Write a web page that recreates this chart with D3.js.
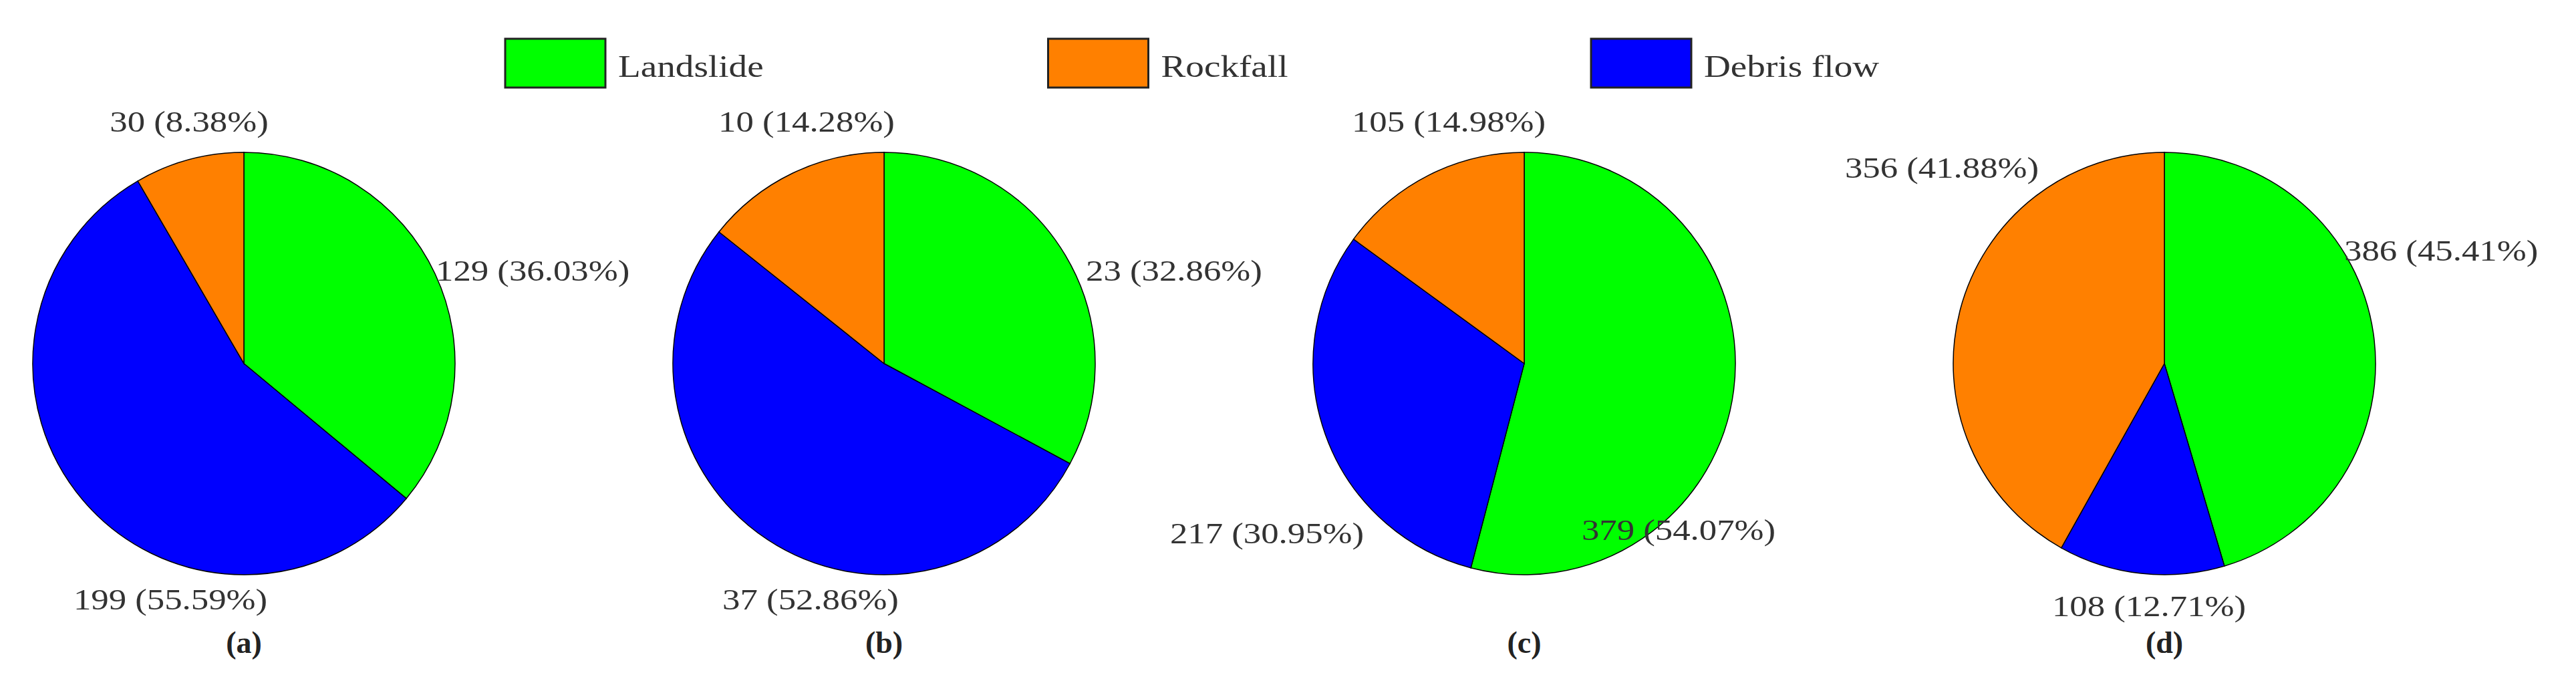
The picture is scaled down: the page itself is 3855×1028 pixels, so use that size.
<!DOCTYPE html>
<html><head><meta charset="utf-8">
<script src="https://cdn.jsdelivr.net/npm/d3@7"></script>
<style>body{margin:0;background:#fff}</style>
</head><body><svg id="c" width="3855" height="1028"></svg>
<script>
const categories = ["Landslide","Rockfall","Debris flow"];
const colors = ["#00ff00","#ff8000","#0000ff"];
const panels = ["(a)","(b)","(c)","(d)"];
const landslide = [129,23,379,386];
const rockfall = [30,10,105,356];
const debris = [199,37,217,108];
const pctLandslide = ["36.03%","32.86%","54.07%","45.41%"];
const pctRockfall = ["8.38%","14.28%","14.98%","41.88%"];
const pctDebris = ["55.59%","52.86%","30.95%","12.71%"];
// label layout: [dx, dy, anchor] relative to pie center, per panel, order landslide, rockfall, debris
const labelLayout = [
  [[287,-124,"start"],[-82,-347,"middle"],[-110,368,"middle"]],
  [[302,-124,"start"],[-116,-347,"middle"],[-110,368,"middle"]],
  [[231,264,"middle"],[-113,-347,"middle"],[-385,269,"middle"]],
  [[269,-154,"start"],[-333,-278,"middle"],[-23,378,"middle"]]
];
const svg = d3.select("#c");
const x = d3.scalePoint().domain(panels).range([365,3239]);
const R = 316, cy = 544;
const pie = d3.pie().sort(null).value(d=>d.v);
const arc = d3.arc().innerRadius(0).outerRadius(R);
const font = "'Liberation Serif','Times New Roman',serif";
panels.forEach((p,i)=>{
  const data=[{v:landslide[i],c:0,p:pctLandslide[i]},{v:debris[i],c:2,p:pctDebris[i]},{v:rockfall[i],c:1,p:pctRockfall[i]}];
  const g=svg.append("g").attr("transform",`translate(${x(p)},${cy})`);
  g.selectAll("path").data(pie(data)).enter().append("path")
    .attr("d",arc).attr("fill",d=>colors[d.data.c]).attr("stroke","#000").attr("stroke-width",1.5);
  data.forEach(d=>{
    const L=labelLayout[i][d.c];
    g.append("text").attr("transform",`translate(${L[0]},${L[1]}) scale(1.2,1)`)
      .attr("text-anchor",L[2]).attr("font-family",font).attr("font-size",44).attr("fill","#333")
      .text(`${d.v} (${d.p})`);
  });
  g.append("text").attr("x",0).attr("y",433).attr("text-anchor","middle").attr("font-family",font)
    .attr("font-weight","bold").attr("font-size",46).attr("fill","#222").text(p);
});
const lx = d3.scalePoint().domain(categories).range([756,2381]);
categories.forEach((c,i)=>{
  svg.append("rect").attr("x",lx(c)).attr("y",58).attr("width",150).attr("height",73)
    .attr("fill",colors[i]).attr("stroke","#222").attr("stroke-width",3);
  svg.append("text").attr("transform",`translate(${lx(c)+169},115) scale(1.2,1)`)
    .attr("font-family",font).attr("font-size",46).attr("fill","#333").text(c);
});
</script></body></html>
